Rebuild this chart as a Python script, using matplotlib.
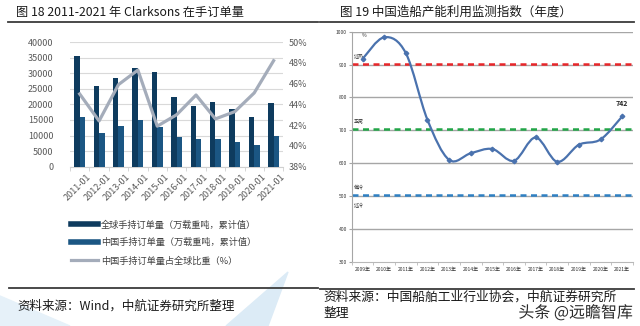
import matplotlib
matplotlib.use('Agg')
import matplotlib.pyplot as plt
import matplotlib.patheffects as pe
import matplotlib.transforms as mtrans
from matplotlib.path import Path
from matplotlib.patches import PathPatch, Polygon
from matplotlib.lines import Line2D
import numpy as np

plt.rcParams['font.family'] = ['Noto Sans CJK SC', 'DejaVu Sans']

# ---- data: figure 18, Clarksons order book ----
months = ['2011-01', '2012-01', '2013-01', '2014-01', '2015-01', '2016-01',
          '2017-01', '2018-01', '2019-01', '2020-01', '2021-01']
global_orders = [35600, 26000, 28500, 31700, 30300, 22300, 19500, 20700, 18600, 16000, 20300]
china_orders = [15900, 10900, 13000, 15000, 12600, 9600, 8800, 8800, 8000, 7000, 9800]
china_share = [45.0, 42.4, 45.9, 47.3, 41.9, 43.0, 44.9, 42.6, 43.3, 45.1, 48.2]
legend_labels = ['全球手持订单量（万载重吨，累计值）',
                 '中国手持订单量（万载重吨，累计值）',
                 '中国手持订单量占全球比重（%）']

# ---- data: figure 19, capacity utilisation index ----
years = ['2009年', '2010年', '2011年', '2012年', '2013年', '2014年', '2015年',
         '2016年', '2017年', '2018年', '2019年', '2020年', '2021年']
index_vals = [917, 983, 935, 732, 610, 630, 643, 607, 678, 604, 656, 672, 742]
levels = [900, 700, 500]
level_names = ['过热', '正常', '偏冷', '过冷']

W, H = 640, 326
def fx(px):
    return px / W
def fy(py):
    return 1 - py / H

fig = plt.figure(figsize=(6.4, 3.26), dpi=100)

# faint watermark shapes in the background
fig.add_artist(Polygon([(fx(288), fy(272)), (fx(268), fy(326)), (fx(226), fy(326))],
                       closed=True, color='#dcebf6', zorder=0, transform=fig.transFigure))
fig.add_artist(Polygon([(fx(0), fy(296)), (fx(70), fy(326)), (fx(0), fy(326))],
                       closed=True, color='#e6f1f9', zorder=0, transform=fig.transFigure))

# ---------------- left chart ----------------
ax1 = fig.add_axes([fx(70), fy(166.7), fx(283.3) - fx(70), fy(42) - fy(166.7)])
x = np.arange(len(months))
ax1.bar(x - 0.14, global_orders, width=0.28, color='#0e3b5e', zorder=3)
ax1.bar(x + 0.14, china_orders, width=0.28, color='#1b5683', zorder=3)
ax1.set_xlim(-0.5, len(months) - 0.5)
ax1.set_ylim(0, 40000)
ax1.set_yticks(np.arange(0, 40001, 5000))
ax1.yaxis.grid(True, color='#d9d9d9', lw=0.8, zorder=0)
for s in ['top', 'right', 'left']:
    ax1.spines[s].set_visible(False)
ax1.spines['bottom'].set_color('#d0d0d0')
ax1.set_xticks(x)
ax1.set_xticklabels(months, rotation=45, ha='right', rotation_mode='anchor')
ax1.set_xticks(np.arange(-0.5, len(months)), minor=True)
ax1.tick_params(axis='x', which='major', length=0, labelsize=6.5, colors='#595959', pad=4)
ax1.tick_params(axis='x', which='minor', length=3, color='#d0d0d0')
ax1.tick_params(axis='y', length=0, labelsize=6.5, colors='#595959', pad=12)
off = mtrans.ScaledTranslation(5 / 72, 0, fig.dpi_scale_trans)
for lab in ax1.get_xticklabels():
    lab.set_transform(lab.get_transform() + off)

ax2 = ax1.twinx()
ax2.plot(x, china_share, color='#a4acba', lw=2.3, zorder=4)
ax2.set_ylim(38, 50)
ax2.set_yticks(np.arange(38, 51, 2))
ax2.set_yticklabels([f'{v}%' for v in range(38, 51, 2)])
ax2.tick_params(axis='y', length=0, labelsize=6.5, colors='#595959', pad=4)
for s in ax2.spines.values():
    s.set_visible(False)

handles = [Line2D([], [], color='#0e3b5e', lw=4),
           Line2D([], [], color='#1b5683', lw=4),
           Line2D([], [], color='#a4acba', lw=2.3)]
fig.legend(handles, legend_labels, loc='upper left',
           bbox_to_anchor=(fx(63), fy(212)), frameon=False, fontsize=6.6,
           handlelength=2.9, handletextpad=0.35, labelspacing=0.95,
           labelcolor='#404040')

# ---------------- right chart ----------------
ax3 = fig.add_axes([fx(351.7), fy(261.7), fx(633) - fx(351.7), fy(31.7) - fy(261.7)])
n = len(years)
xs = np.arange(n) + 0.5
ys = np.array(index_vals, dtype=float)
ax3.set_xlim(0, n)
ax3.set_ylim(300, 1000)
for v in range(400, 1001, 100):
    ax3.axhline(v, color='#a6a6a6', lw=1.0, zorder=1)
lvl_colors = ['#e8262a', '#22a548', '#2f80c3']
for v, c in zip(levels, lvl_colors):
    ax3.axhline(v + 3, color=c, lw=1.8, ls=(0, (2.4, 1.8)), zorder=2)

# smooth curve through the points (Excel-style)
verts = [(xs[0], ys[0])]
codes = [Path.MOVETO]
for i in range(n - 1):
    p0 = np.array([xs[max(i - 1, 0)], ys[max(i - 1, 0)]])
    p1 = np.array([xs[i], ys[i]])
    p2 = np.array([xs[i + 1], ys[i + 1]])
    p3 = np.array([xs[min(i + 2, n - 1)], ys[min(i + 2, n - 1)]])
    c1 = p1 + (p2 - p0) / 6
    c2 = p2 - (p3 - p1) / 6
    verts += [tuple(c1), tuple(c2), tuple(p2)]
    codes += [Path.CURVE4] * 3
ax3.add_patch(PathPatch(Path(verts, codes), fill=False, ec='#4a72ae', lw=1.6, zorder=4))
ax3.plot(xs, ys, ls='none', marker='D', ms=2.3, color='#4a72ae', zorder=5)
ax3.annotate(str(index_vals[-1]), (xs[-1], ys[-1]), xytext=(0, 7), textcoords='offset points',
             ha='center', va='bottom', fontsize=5, fontweight='bold', color='#222222')

name_y = [927, 728, 525, 470]
for name, yy in zip(level_names, name_y):
    ax3.text(0.08, yy, name, fontsize=3.6, color='#333333', va='center')
ax3.text(0.45, 987, '%', fontsize=3.6, color='#333333', va='center')

for s in ['top', 'right']:
    ax3.spines[s].set_visible(False)
ax3.spines['left'].set_color('#a6a6a6')
ax3.spines['bottom'].set_color('#b8b8b8')
ax3.set_yticks(np.arange(300, 1001, 100))
ax3.tick_params(axis='y', length=2, color='#a6a6a6', labelsize=3.6, colors='#333333', pad=1.5)
ax3.set_xticks(xs)
ax3.set_xticklabels(years)
ax3.set_xticks(np.arange(0, n + 1), minor=True)
ax3.tick_params(axis='x', which='major', length=0, labelsize=3.6, colors='#333333', pad=4)
ax3.tick_params(axis='x', which='minor', length=2.5, color='#b8b8b8')

# ---------------- titles, rules, sources ----------------
fig.text(fx(16), fy(12.5), '图 18 2011-2021 年 Clarksons 在手订单量', fontsize=8.8,
         color='#1a1a1a', va='center')
fig.text(fx(340), fy(12.5), '图 19 中国造船产能利用监测指数（年度）', fontsize=9,
         color='#1a1a1a', va='center')
fig.add_artist(Line2D([fx(8), fx(318)], [fy(22)] * 2, color='#3c3c3c', lw=1.3))
fig.add_artist(Line2D([fx(320), fx(634)], [fy(22)] * 2, color='#3c3c3c', lw=1.3))
fig.add_artist(Line2D([fx(9), fx(318)], [fy(288)] * 2, color='#3c3c3c', lw=1.3))
fig.add_artist(Line2D([fx(320), fx(634)], [fy(289)] * 2, color='#3c3c3c', lw=1.3))

fig.text(fx(17), fy(306), '资料来源：Wind，中航证券研究所整理', fontsize=9,
         color='#1a1a1a', va='center')
fig.text(fx(323), fy(297), '资料来源：中国船舶工业行业协会，中航证券研究所', fontsize=9.2,
         color='#1a1a1a', va='center')
fig.text(fx(323), fy(314), '整理', fontsize=9.2, color='#1a1a1a', va='center')

fig.text(fx(633), fy(313), '头条 @远瞻智库', fontsize=11.5, color='#2a2a2a',
         ha='right', va='center',
         path_effects=[pe.withStroke(linewidth=2.5, foreground='white')])

fig.savefig('out.png', dpi=100)
